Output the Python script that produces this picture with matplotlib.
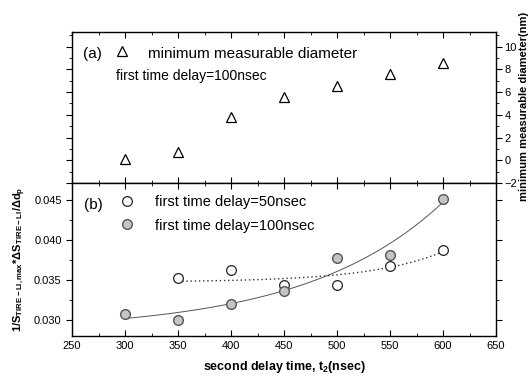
import numpy as np
import matplotlib
matplotlib.use("Agg")
import matplotlib.pyplot as plt
from matplotlib.ticker import MultipleLocator

plt.rcParams['font.family'] = ['Liberation Sans', 'DejaVu Sans']
plt.rcParams['mathtext.fontset'] = 'custom'
plt.rcParams['mathtext.rm'] = 'Liberation Sans:bold'
plt.rcParams['mathtext.default'] = 'rm'

# second delay time (nsec)
t2 = [300, 350, 400, 450, 500, 550, 600]
# (a) minimum measurable diameter (nm), first delay 100 nsec
d_min = [0.1, 0.7, 3.8, 5.6, 6.5, 7.6, 8.6]

# (b) normalised sensitivity
t2_50 = [350, 400, 450, 500, 550, 600]
s_50 = [0.0352, 0.0363, 0.0344, 0.0344, 0.0367, 0.0388]
t2_100 = [300, 350, 400, 450, 500, 550, 600]
s_100 = [0.0308, 0.0300, 0.0320, 0.0336, 0.0377, 0.0381, 0.0451]


def exp_fit(x, y, tau, xs):
    # least squares for y = a + b*exp(x/tau)
    x = np.asarray(x, float)
    A = np.column_stack([np.ones_like(x), np.exp((x - x[0]) / tau)])
    a, b = np.linalg.lstsq(A, np.asarray(y), rcond=None)[0]
    return a + b * np.exp((xs - x[0]) / tau)


fig = plt.figure(figsize=(5.3, 3.79), dpi=100)
ax1 = fig.add_axes([0.136, 0.517, 0.800, 0.399])
ax2 = fig.add_axes([0.136, 0.113, 0.800, 0.404])

# --- top panel ---
ax1.plot(t2, d_min, linestyle='none', marker='^', ms=7.5, mfc='white', mec='black', mew=0.9)
ax1.set_xlim(250, 650)
ax1.set_ylim(-2, 11.3)
ax1.yaxis.tick_right()
ax1.tick_params(axis='y', which='both', left=True, right=True, labelleft=False,
                labelright=True, direction='out', labelsize=8, pad=2)
ax1.tick_params(axis='x', which='both', top=True, bottom=True, labelbottom=False,
                direction='in')
ax1.yaxis.set_major_locator(MultipleLocator(2))
ax1.yaxis.set_minor_locator(MultipleLocator(1))
ax1.xaxis.set_major_locator(MultipleLocator(50))
ax1.xaxis.set_minor_locator(MultipleLocator(25))
ax1.tick_params(which='major', length=4)
ax1.tick_params(which='minor', length=2)
ax1.text(0.025, 0.83, '(a)', transform=ax1.transAxes, fontsize=11)
ax1.plot([0.118], [0.875], transform=ax1.transAxes, marker='^', ms=7.5,
         mfc='white', mec='black', mew=0.9, clip_on=False)
ax1.text(0.18, 0.83, 'minimum measurable diameter', transform=ax1.transAxes, fontsize=11)
ax1.text(0.104, 0.68, 'first time delay=100nsec', transform=ax1.transAxes, fontsize=10)
fig.text(0.988, 0.72, 'minimum measurable diameter(nm)', rotation=90, ha='center',
         va='center', fontsize=8, fontweight='bold')

# --- bottom panel ---
xf = np.linspace(300, 600, 100)
ax2.plot(xf, exp_fit(t2_100, s_100, 130.0, xf), color='#555555', lw=0.7)
xf50 = np.linspace(350, 600, 100)
ax2.plot(xf50, exp_fit(t2_50, s_50, 70.0, xf50), color='#333333', lw=1.0,
         linestyle=(0, (1, 2)))

ax2.plot(t2_50, s_50, linestyle='none', marker='o', ms=7, mfc='white', mec='#222222', mew=0.9)
ax2.plot(t2_100, s_100, linestyle='none', marker='o', ms=7, mfc='#c4c4c4', mec='#555555', mew=1.0)

ax2.set_xlim(250, 650)
ax2.set_ylim(0.028, 0.0471)
ax2.xaxis.set_major_locator(MultipleLocator(50))
ax2.xaxis.set_minor_locator(MultipleLocator(25))
ax2.yaxis.set_major_locator(MultipleLocator(0.005))
ax2.yaxis.set_minor_locator(MultipleLocator(0.0025))
ax2.tick_params(axis='x', which='both', top=True, bottom=True, direction='in', labelsize=8)
ax2.tick_params(axis='y', which='both', left=True, right=True, direction='out', labelsize=8)
ax2.tick_params(which='major', length=4)
ax2.tick_params(which='minor', length=2)
ax2.set_xlabel('second delay time, t$_{2}$(nsec)', fontsize=9, fontweight='bold', labelpad=6)
ax2.set_ylabel('1/S$_{TIRE-LI,max}$*$\\Delta$S$_{TIRE-LI}$/$\\Delta$d$_{p}$',
               fontsize=8, fontweight='bold', labelpad=4)

ax2.text(0.027, 0.83, '(b)', transform=ax2.transAxes, fontsize=11)
ax2.plot([0.129], [0.885], transform=ax2.transAxes, marker='o', ms=7, mfc='white',
         mec='#222222', mew=0.9, clip_on=False)
ax2.plot([0.129], [0.73], transform=ax2.transAxes, marker='o', ms=7, mfc='#c4c4c4',
         mec='#555555', mew=1.0, clip_on=False)
ax2.text(0.195, 0.85, 'first time delay=50nsec', transform=ax2.transAxes, fontsize=10.5)
ax2.text(0.195, 0.695, 'first time delay=100nsec', transform=ax2.transAxes, fontsize=10.5)

for ax in (ax1, ax2):
    for s in ax.spines.values():
        s.set_linewidth(1.0)

fig.savefig('out.png', dpi=100)
